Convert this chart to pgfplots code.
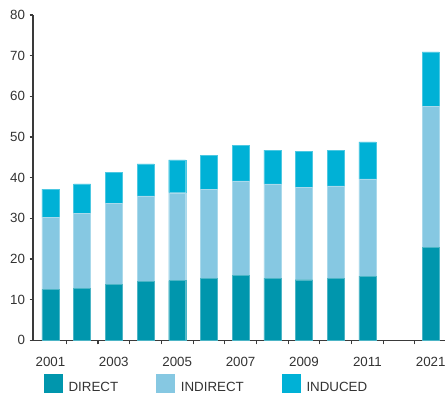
\documentclass[border=0pt]{standalone}
\usepackage{fontspec}
\setmainfont{Liberation Sans}
\usepackage{pgfplots}
\usepackage{pgfplotstable}
\pgfplotsset{compat=1.18}
\definecolor{cdirect}{HTML}{0096AD}
\definecolor{cindirect}{HTML}{86C8E2}
\definecolor{cinduced}{HTML}{00B1D6}
\definecolor{axgray}{HTML}{3A3A3A}
\definecolor{txtgray}{HTML}{333333}
\pgfplotstableread{
x direct indirect induced
0 12.5 17.7 7.0
1 12.8 18.4 7.3
2 13.8 19.8 7.7
3 14.5 21.0 7.9
4 14.7 21.6 8.1
5 15.3 21.8 8.3
6 15.9 23.3 8.8
7 15.3 23.2 8.3
8 14.9 22.8 8.8
9 15.2 22.8 8.8
10 15.8 23.9 9.1
12 22.8 34.8 13.3
}\datatable
\begin{document}
\begin{tikzpicture}
\begin{axis}[
  scale only axis, width=309pt, height=244pt,
  ybar stacked, bar width=12.75pt,
  xmin=-0.55, xmax=12.45, ymin=0, ymax=80,
  axis x line*=bottom, axis y line*=left,
  axis line style={axgray, line width=0.8pt, -},
  xtick={0,2,4,6,8,10,12},
  xticklabels={2001,2003,2005,2007,2009,2011,2021},
  minor xtick={0.5,1.5,...,11.5},
  major x tick style={draw=none},
  minor tick length=3pt, tick align=outside,
  minor x tick style={axgray, line width=0.8pt},
  ytick={0,10,...,80},
  major y tick style={axgray, line width=0.8pt},
  major tick length=2.5pt,
  /pgf/number format/assume math mode=true,
  tick label style={font=\fontsize{10}{12}\selectfont, text=txtgray},
  xticklabel style={yshift=-6.5pt},
  yticklabel style={xshift=0pt},
  legend columns=3,
  legend entries={DIRECT,INDIRECT,INDUCED},
  legend cell align=left,
  legend image code/.code={\path[#1, draw=none] (0pt,-3.25pt) rectangle (14pt,10.75pt); \path[draw=none, fill=none] (14pt,0pt) -- (16.5pt,0pt);},
  legend style={draw=none, fill=none, inner sep=0pt, at={(0,0)}, anchor=north west,
    xshift=8pt, yshift=-25pt,
    font=\fontsize{10}{12}\selectfont, text=txtgray,
    /tikz/every even column/.append style={column sep=26.5pt}},
]
\addplot[fill=cdirect, draw=cdirect!70!white, line width=0.3pt] table[x=x, y=direct]{\datatable};
\addplot[fill=cindirect, draw=cindirect!70!white, line width=0.3pt] table[x=x, y=indirect]{\datatable};
\addplot[fill=cinduced, draw=cinduced!70!white, line width=0.3pt] table[x=x, y=induced]{\datatable};
\end{axis}
\pgfresetboundingbox
\path ([xshift=-24.75pt,yshift=-39pt]current axis.south west) rectangle ([yshift=11.25pt]current axis.north east);
\end{tikzpicture}
\end{document}
